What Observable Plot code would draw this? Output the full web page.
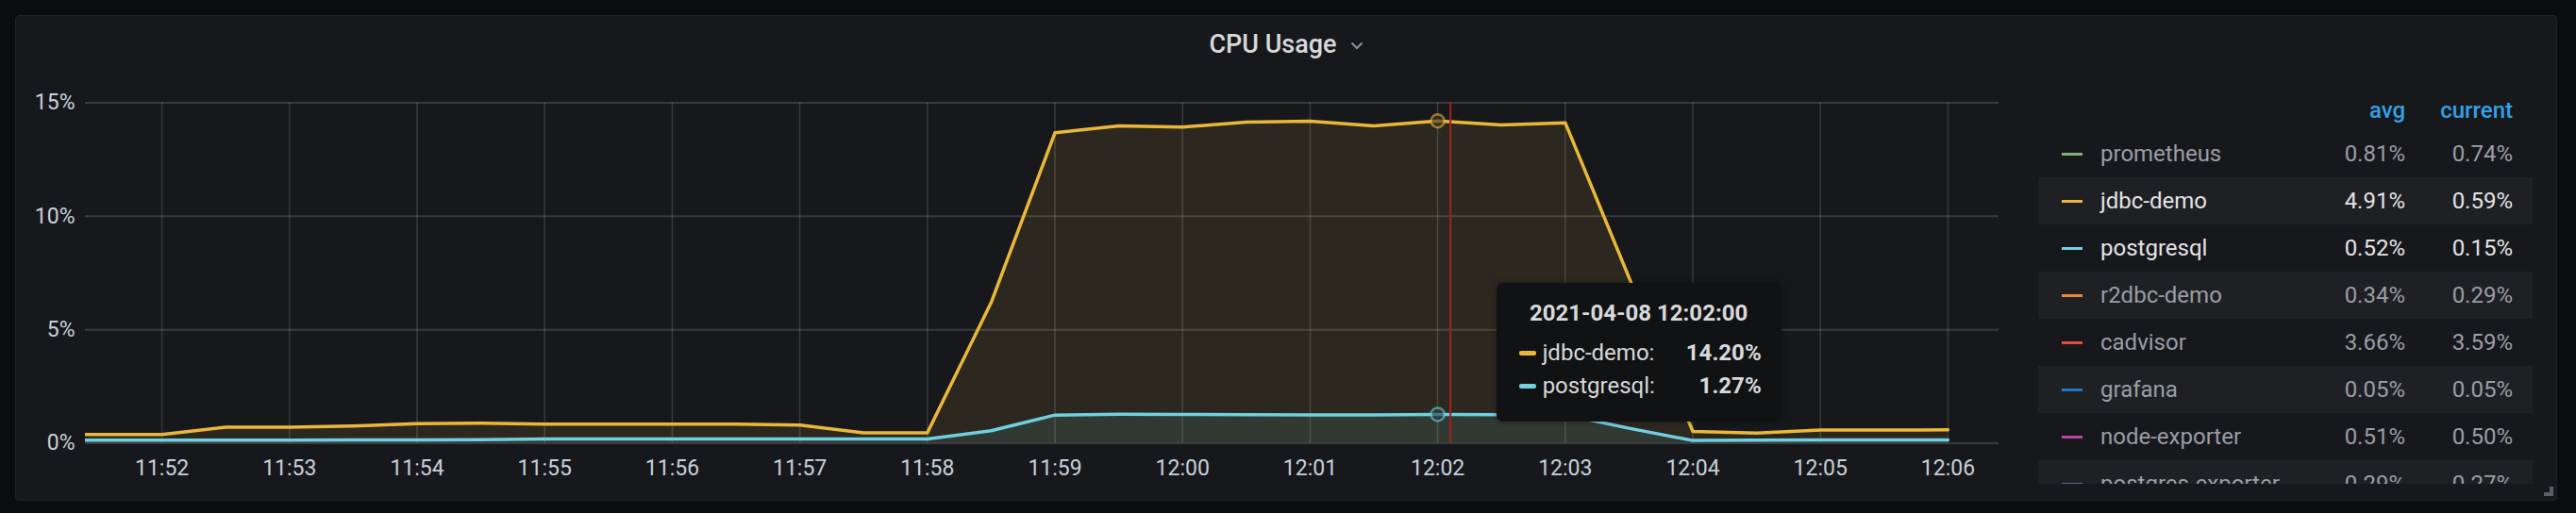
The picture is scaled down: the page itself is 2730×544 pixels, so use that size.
<!DOCTYPE html>
<html>
<head>
<meta charset="utf-8">
<script src="https://cdn.jsdelivr.net/npm/d3@7"></script>
<script src="https://cdn.jsdelivr.net/npm/@observablehq/plot@0.6"></script>
<style>
html,body{margin:0;padding:0;background:#0b0c0e;width:2730px;height:544px;overflow:hidden;font-family:Roboto,"Noto Sans",sans-serif;}
#panel{position:absolute;left:16px;top:16px;width:2692px;height:513px;background:#17181c;border:1px solid #212327;border-radius:4px;}
#title{position:absolute;left:16px;top:16px;width:2694px;height:62px;display:flex;align-items:center;justify-content:center;color:#d8d9da;font-size:27px;font-weight:500;}
#title svg{margin-left:14px;margin-top:2px;}
#chart{position:absolute;left:16px;top:78px;}
#legend{position:absolute;left:2160px;top:96px;width:524px;height:417px;overflow:hidden;font-size:24px;}
.lrow{position:absolute;left:0;width:524px;height:50px;}
.lrow span{position:absolute;top:0;line-height:50px;white-space:nowrap;}
.sw{position:absolute;left:25px;top:24px;width:22px;height:3px;}
.hdr{position:absolute;top:0;height:42px;line-height:42px;color:#33a2e5;font-weight:500;}
#tooltip{position:absolute;width:302px;height:147px;background:#111214;border-radius:7px;color:#d8d9da;font-size:24px;box-shadow:0 0 6px rgba(0,0,0,0.4);}
#tooltip .tt{position:absolute;left:0;width:302px;top:12px;text-align:center;font-weight:700;line-height:40px;}
#tooltip .tr{position:absolute;left:0;width:302px;height:35px;}
#tooltip .tr span{position:absolute;line-height:35px;top:0;}
#handle{position:absolute;left:2696px;top:516px;width:6px;height:6px;border-right:4px solid #5c5e63;border-bottom:4px solid #5c5e63;}
</style>
</head>
<body>
<div id="panel"></div>
<div id="title">CPU Usage<svg width="14" height="9" viewBox="0 0 14 9"><polyline points="1.5,1.5 7,7 12.5,1.5" fill="none" stroke="#8e9196" stroke-width="2"/></svg></div>
<div id="chart"></div>
<div id="legend"></div>
<div id="tooltip"></div>
<div id="handle"></div>
<script>
// ---- data ----
const dateStr = "2021-04-08";
const times = ["11:51:00","11:51:30","11:52:00","11:52:30","11:53:00","11:53:30","11:54:00","11:54:30",
  "11:55:00","11:55:30","11:56:00","11:56:30","11:57:00","11:57:30","11:58:00","11:58:30",
  "11:59:00","11:59:30","12:00:00","12:00:30","12:01:00","12:01:30","12:02:00","12:02:30",
  "12:03:00","12:03:30","12:04:00","12:04:30","12:05:00","12:05:30","12:06:00"];
const jdbcDemo = [0.38,0.38,0.38,0.71,0.71,0.76,0.86,0.88,
  0.84,0.84,0.84,0.84,0.80,0.46,0.46,6.2,
  13.68,13.98,13.93,14.15,14.19,13.98,14.20,14.02,
  14.12,7.3,0.52,0.45,0.58,0.58,0.59];
const postgresql = [0.13,0.13,0.13,0.14,0.14,0.15,0.15,0.16,
  0.19,0.19,0.19,0.19,0.19,0.19,0.19,0.55,
  1.24,1.28,1.27,1.26,1.25,1.25,1.27,1.26,
  1.25,0.66,0.12,0.14,0.15,0.15,0.15];
const xTickLabels = ["11:52","11:53","11:54","11:55","11:56","11:57","11:58","11:59","12:00","12:01","12:02","12:03","12:04","12:05","12:06"];
const yTicks = [0,5,10,15];
const xRange = ["11:51:24","12:06:24"];
const hoverTime = "12:02:00";
const cursorTime = "12:02:06";

const legendNames = ["prometheus","jdbc-demo","postgresql","r2dbc-demo","cadvisor","grafana","node-exporter","postgres-exporter"];
const legendColors = ["#7EB26D","#EAB839","#6ED0E0","#EF843C","#E24D42","#1F78C1","#BA43A9","#705DA0"];
const legendAvg = ["0.81%","4.91%","0.52%","0.34%","3.66%","0.05%","0.51%","0.29%"];
const legendCurrent = ["0.74%","0.59%","0.15%","0.29%","3.59%","0.05%","0.50%","0.27%"];
const legendShown = [false,true,true,false,false,false,false,false];

const tooltipTitle = "2021-04-08 12:02:00";
const tooltipNames = ["jdbc-demo:","postgresql:"];
const tooltipValues = ["14.20%","1.27%"];

// ---- build ----
const T = s => new Date(`${dateStr}T${s.length === 5 ? s + ":00" : s}Z`);
const rows = times.map((t, i) => ({time: T(t), jdbc: jdbcDemo[i], pg: postgresql[i]}));
const xTicks = xTickLabels.map(T);
const hoverRows = rows.filter(d => +d.time === +T(hoverTime));
const YELLOW = legendColors[1], CYAN = legendColors[2];

const plot = Plot.plot({
  width: 2114, height: 453,
  marginLeft: 74, marginRight: 12, marginTop: 30.5, marginBottom: 61.5,
  style: {background: "transparent", color: "#c7d0d9", fontFamily: "Roboto, sans-serif", fontSize: "23px"},
  x: {type: "utc", domain: xRange.map(T), ticks: xTicks, tickFormat: d3.utcFormat("%H:%M"), tickSize: 0, tickPadding: 18, label: null},
  y: {domain: [0, 15], ticks: yTicks, tickFormat: d => d + "%", tickSize: 0, tickPadding: 11, label: null},
  marks: [
    Plot.ruleY(yTicks, {stroke: "#ffffff", strokeOpacity: 0.15, strokeWidth: 2}),
    Plot.ruleX(xTicks, {y1: 0, y2: 15, stroke: "#ffffff", strokeOpacity: 0.15, strokeWidth: 1.5}),
    Plot.areaY(rows, {x: "time", y: "jdbc", fill: YELLOW, fillOpacity: 0.1, clip: true}),
    Plot.areaY(rows, {x: "time", y: "pg", fill: CYAN, fillOpacity: 0.1, clip: true}),
    Plot.lineY(rows, {x: "time", y: "jdbc", stroke: YELLOW, strokeWidth: 3.5, clip: true}),
    Plot.lineY(rows, {x: "time", y: "pg", stroke: CYAN, strokeWidth: 3.5, clip: true}),
    Plot.dot(hoverRows, {x: "time", y: "jdbc", r: 7, fill: "#3a3422", fillOpacity: 0.6, stroke: YELLOW, strokeOpacity: 0.6, strokeWidth: 2.5}),
    Plot.dot(hoverRows, {x: "time", y: "pg", r: 7, fill: "#2a3a3d", fillOpacity: 0.6, stroke: CYAN, strokeOpacity: 0.6, strokeWidth: 2.5}),
    Plot.ruleX([T(cursorTime)], {y1: 0, y2: 15, stroke: "#a3221d", strokeWidth: 2})
  ]
});
document.getElementById("chart").appendChild(plot);

// legend
const lg = document.getElementById("legend");
let html = `<div class="hdr" style="right:${524-389}px">avg</div><div class="hdr" style="right:21px">current</div>`;
legendNames.forEach((n, i) => {
  const bg = i % 2 === 1 ? "#1e2024" : "transparent";
  const col = legendShown[i] ? "#e3e4e6" : "#9a9ea5";
  html += `<div class="lrow" style="top:${42 + 50*i}px;background:${bg};color:${col}">
    <div class="sw" style="background:${legendColors[i]}"></div>
    <span style="left:66px">${n}</span>
    <span style="right:${524-389}px">${legendAvg[i]}</span>
    <span style="right:21px">${legendCurrent[i]}</span></div>`;
});
lg.innerHTML = html;

// tooltip, anchored to the cursor position through the x scale
const xs = plot.scale("x");
const ys = plot.scale("y");
const tip = document.getElementById("tooltip");
tip.style.left = (16 + xs.apply(T(cursorTime)) + 49) + "px";
tip.style.top = (78 + ys.apply(7) - 1) + "px";
let th = `<div class="tt">${tooltipTitle}</div>`;
tooltipNames.forEach((n, i) => {
  th += `<div class="tr" style="top:${57 + 35*i}px">
    <div style="position:absolute;left:24px;top:15px;width:18px;height:5px;border-radius:2px;background:${[YELLOW, CYAN][i]}"></div>
    <span style="left:49px">${n}</span>
    <span style="right:21px;font-weight:700">${tooltipValues[i]}</span></div>`;
});
tip.innerHTML = th;
</script>
</body>
</html>
